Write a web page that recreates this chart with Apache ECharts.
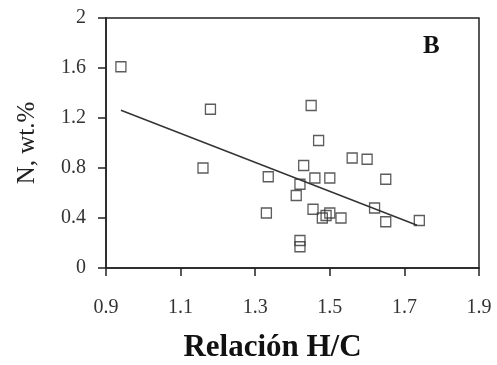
<!DOCTYPE html>
<html>
<head>
<meta charset="utf-8">
<script src="https://cdn.jsdelivr.net/npm/echarts@6/dist/echarts.min.js"></script>
<style>
  html, body { margin: 0; padding: 0; background: #fff; }
  #chart { width: 497px; height: 365px; }
</style>
</head>
<body>
<div id="chart"></div>
<script>
// H/C ratio vs nitrogen content
const hcRatio = [0.94, 1.18, 1.16, 1.45, 1.47, 1.56, 1.60, 1.43, 1.335, 1.46, 1.50, 1.65, 1.42,
  1.41, 1.33, 1.455, 1.48, 1.50, 1.49, 1.53, 1.62, 1.65, 1.74, 1.42, 1.42];
const nitrogen = [1.61, 1.27, 0.80, 1.30, 1.02, 0.88, 0.87, 0.82, 0.73, 0.72, 0.72, 0.71, 0.67,
  0.58, 0.44, 0.47, 0.40, 0.44, 0.42, 0.40, 0.48, 0.37, 0.38, 0.22, 0.17];

// linear fit drawn in the figure
const trendX = [0.94, 1.734];
const trendY = [1.262, 0.342];

const fontFamily = "Liberation Serif";
const ink = "#222";

const chart = echarts.init(document.getElementById("chart"));

chart.setOption({
  animation: false,
  backgroundColor: "#fff",
  grid: {
    left: 106,
    right: 18,
    top: 18,
    bottom: 97,
    outerBoundsMode: "none",
    show: true,
    borderColor: ink,
    borderWidth: 1.5,
  },
  xAxis: {
    type: "value",
    min: 0.9,
    max: 1.9,
    interval: 0.2,
    name: "Relación H/C",
    nameLocation: "middle",
    nameGap: 64,
    nameTextStyle: {
      fontFamily,
      fontSize: 31,
      fontWeight: "bold",
      color: "#111",
      padding: [0, 40, 0, 0],
    },
    axisLine: { show: true, lineStyle: { color: ink, width: 1.5 } },
    axisTick: { show: true, length: 8, lineStyle: { color: ink, width: 1.5 } },
    axisLabel: {
      margin: 30,
      fontFamily,
      fontSize: 20,
      color: "#333",
      formatter: (v) => v.toFixed(1),
    },
    splitLine: { show: false },
  },
  yAxis: {
    type: "value",
    min: 0,
    max: 2,
    interval: 0.4,
    name: "N, wt.%",
    nameLocation: "middle",
    nameGap: 66,
    nameTextStyle: { fontFamily, fontSize: 25, color: "#222" },
    axisLine: { show: true, lineStyle: { color: ink, width: 1.5 } },
    axisTick: { show: true, length: 8, lineStyle: { color: ink, width: 1.5 } },
    axisLabel: {
      margin: 20,
      fontFamily,
      fontSize: 20,
      color: "#333",
      formatter: (v) => (v === 0 || v === 2 ? String(v) : v.toFixed(1)),
    },
    splitLine: { show: false },
  },
  graphic: [
    {
      type: "text",
      left: 423,
      top: 34,
      style: { text: "B", font: "bold 25px 'Liberation Serif'", fill: "#111" },
    },
  ],
  series: [
    {
      type: "line",
      data: trendX.map((x, i) => [x, trendY[i]]),
      symbol: "none",
      lineStyle: { color: "#333", width: 1.4 },
      z: 2,
    },
    {
      type: "scatter",
      data: hcRatio.map((x, i) => [x, nitrogen[i]]),
      symbol: "rect",
      symbolSize: 10,
      itemStyle: { color: "transparent", borderColor: "#333", borderWidth: 1.3 },
      z: 3,
    },
  ],
});
</script>
</body>
</html>
